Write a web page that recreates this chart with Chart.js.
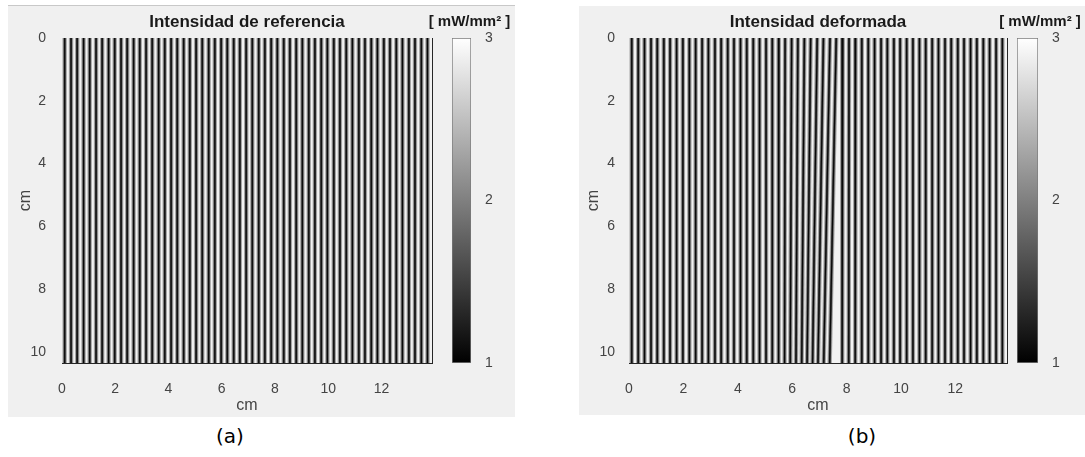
<!DOCTYPE html>
<html>
<head>
<meta charset="utf-8">
<script src="https://cdn.jsdelivr.net/npm/chart.js@4.4.1/dist/chart.umd.min.js"></script>
<style>
  body { margin: 0; background: #fff; width: 1085px; height: 457px; position: relative; overflow: hidden; }
  .panel { position: absolute; background: #f0f0f0; }
  canvas { position: absolute; }
  .cap { position: absolute; top: 424px; font-family: 'DejaVu Sans', sans-serif; font-size: 20px; color: #000; transform: translateX(-50%); }
</style>
</head>
<body>
<div class="panel" style="left:8px;top:5px;width:507px;height:411px;border-top:1px solid #c8c8c8"></div>
<div class="panel" style="left:579px;top:6px;width:506px;height:409px"></div>

<canvas id="refChart" width="432" height="411" style="left:8px;top:5px"></canvas>
<canvas id="refBar" width="91" height="411" style="left:424px;top:5px"></canvas>
<canvas id="defChart" width="433" height="411" style="left:579px;top:5px"></canvas>
<canvas id="defBar" width="90" height="411" style="left:995px;top:5px"></canvas>

<div class="cap" style="left:230px">(a)</div>
<div class="cap" style="left:862px">(b)</div>

<script>
const xTicks = [0, 2, 4, 6, 8, 10, 12];
const yTicks = [0, 2, 4, 6, 8, 10];
const barTicks = [1, 2, 3];
const barColors = ['#000000', '#ffffff'];
const xMax = 13.9;
const yMax = 10.35;

// dark fringe centres (cm) of the reference pattern
const refFringes = [0.10, 0.34, 0.57, 0.81, 1.04, 1.28, 1.51, 1.75, 1.98, 2.22,
    2.45, 2.69, 2.92, 3.16, 3.39, 3.63, 3.86, 4.10, 4.33, 4.57,
    4.80, 5.04, 5.27, 5.51, 5.74, 5.98, 6.21, 6.45, 6.68, 6.92,
    7.15, 7.39, 7.62, 7.86, 8.09, 8.33, 8.56, 8.80, 9.03, 9.27,
    9.50, 9.74, 9.97, 10.21, 10.44, 10.68, 10.91, 11.15, 11.38, 11.62,
    11.85, 12.09, 12.32, 12.56, 12.79, 13.03, 13.26, 13.50, 13.73];

// deformed pattern: same fringes, centre at the top (y = 0) and at the bottom edge
const defTop = [0.10, 0.34, 0.57, 0.81, 1.04, 1.28, 1.51, 1.75, 1.98, 2.22,
    2.45, 2.69, 2.92, 3.16, 3.39, 3.63, 3.86, 4.10, 4.33, 4.57,
    4.80, 5.04, 5.27, 5.51, 5.74, 5.98, 6.21, 6.45, 6.68, 6.92,
    7.15, 7.39, 7.62, 7.86, 8.09, 8.33, 8.56, 8.80, 9.03, 9.27,
    9.50, 9.74, 9.97, 10.21, 10.44, 10.68, 10.91, 11.15, 11.38, 11.62,
    11.85, 12.09, 12.32, 12.56, 12.79, 13.03, 13.26, 13.50, 13.73];
const defBottom = [0.10, 0.34, 0.57, 0.81, 1.04, 1.28, 1.51, 1.75, 1.98, 2.22,
    2.45, 2.69, 2.92, 3.16, 3.39, 3.63, 3.86, 4.10, 4.33, 4.57,
    4.80, 5.04, 5.27, 5.50, 5.72, 5.93, 6.14, 6.35, 6.55, 6.75,
    6.95, 7.16, 7.38, 7.84, 8.08, 8.32, 8.56, 8.80, 9.03, 9.27,
    9.50, 9.74, 9.97, 10.21, 10.44, 10.68, 10.91, 11.15, 11.38, 11.62,
    11.85, 12.09, 12.32, 12.56, 12.79, 13.03, 13.26, 13.50, 13.73];

const font = "'Liberation Sans', Arial, sans-serif";
const textColor = '#444444';
const frameColor = '#262626';

// each fringe drawn three times, wide grey -> narrow black, to fake the cosine shading
const layers = [
    { width: 4.4, color: '#a4a4a4', order: 2 },
    { width: 2.3, color: '#424242', order: 1 },
    { width: 1.1, color: '#080808', order: 0 }
];

const plotBg = {
    id: 'plotBg',
    beforeDatasetsDraw(chart) {
        const a = chart.chartArea;
        chart.ctx.save();
        chart.ctx.fillStyle = '#f2f2f2';
        chart.ctx.fillRect(a.left, a.top, a.right - a.left, a.bottom - a.top);
        chart.ctx.restore();
    }
};

function fringeSets(top, bottom) {
    const sets = [];
    layers.forEach(l => {
        top.forEach((x0, i) => {
            sets.push({
                data: [{ x: x0, y: 0 }, { x: bottom[i], y: yMax }],
                showLine: true,
                borderColor: l.color,
                borderWidth: l.width,
                borderCapStyle: 'butt',
                pointRadius: 0,
                order: l.order,
                clip: 0
            });
        });
    });
    return sets;
}

function fringeChart(id, title, top, bottom, yWidth, padRight, yTitlePad, yTickPad) {
    return new Chart(document.getElementById(id), {
        type: 'scatter',
        data: { datasets: fringeSets(top, bottom) },
        options: {
            responsive: false,
            animation: false,
            events: [],
            layout: { padding: { right: padRight } },
            plugins: {
                legend: { display: false },
                tooltip: { enabled: false },
                title: {
                    display: true,
                    text: title,
                    fullSize: false,
                    color: '#1a1a1a',
                    font: { family: font, size: 17, weight: 'bold' },
                    padding: { top: 6.8, bottom: 5.8 }
                }
            },
            scales: {
                x: {
                    type: 'linear', min: 0, max: xMax,
                    afterBuildTicks: s => { s.ticks = xTicks.map(v => ({ value: v })); },
                    afterFit: s => { s.height = 53; },
                    grid: { display: false },
                    border: { color: frameColor },
                    ticks: { color: textColor, font: { family: font, size: 14 }, padding: 10 },
                    title: { display: true, text: 'cm', color: textColor, font: { family: font, size: 16 }, padding: { top: 0, bottom: 1 } }
                },
                y: {
                    type: 'linear', min: 0, max: yMax, reverse: true,
                    afterBuildTicks: s => { s.ticks = yTicks.map(v => ({ value: v })); },
                    afterFit: s => { s.width = yWidth; },
                    grid: { display: false },
                    border: { color: frameColor },
                    ticks: { color: textColor, font: { family: font, size: 14 }, padding: yTickPad },
                    title: { display: true, text: 'cm', color: textColor, font: { family: font, size: 16 }, padding: { top: yTitlePad, bottom: 0 } }
                },
                xTop: {
                    type: 'linear', position: 'top', min: 0, max: xMax,
                    ticks: { display: false }, grid: { display: false },
                    border: { color: frameColor },
                    afterFit: s => { s.height = 0; }
                },
                yRight: {
                    type: 'linear', position: 'right', min: 0, max: yMax,
                    ticks: { display: false }, grid: { display: false },
                    border: { color: frameColor },
                    afterFit: s => { s.width = 0; }
                }
            }
        },
        plugins: [plotBg]
    });
}

function colorBar(id, padLeft, yWidth) {
    return new Chart(document.getElementById(id), {
        type: 'bar',
        data: {
            labels: [''],
            datasets: [{
                data: [[barTicks[0], barTicks[barTicks.length - 1]]],
                backgroundColor: c => {
                    const a = c.chart.chartArea;
                    if (!a) return '#808080';
                    const g = c.chart.ctx.createLinearGradient(0, a.bottom, 0, a.top);
                    g.addColorStop(0, barColors[0]);
                    g.addColorStop(1, barColors[1]);
                    return g;
                },
                borderColor: '#7a7a7a',
                borderWidth: 1,
                borderSkipped: false,
                categoryPercentage: 1,
                barPercentage: 1
            }]
        },
        options: {
            responsive: false,
            animation: false,
            events: [],
            layout: { padding: { bottom: 53 } },
            plugins: {
                legend: { display: false },
                tooltip: { enabled: false },
                title: {
                    display: true,
                    text: '[ mW/mm² ]',
                    color: '#1a1a1a',
                    font: { family: font, size: 15, weight: 'bold' },
                    padding: { top: 8, bottom: 7 }
                }
            },
            scales: {
                x: { display: false },
                y: {
                    position: 'right', min: barTicks[0], max: barTicks[barTicks.length - 1],
                    afterBuildTicks: s => { s.ticks = barTicks.map(v => ({ value: v })); },
                    afterFit: s => { s.width = yWidth; },
                    grid: { display: false },
                    border: { display: false },
                    ticks: { color: textColor, font: { family: font, size: 14 }, padding: 6 }
                },
                // empty axis that only holds the space left of the bar
                gap: {
                    type: 'linear', position: 'left',
                    ticks: { display: false }, grid: { display: false },
                    border: { display: false },
                    afterFit: s => { s.width = padLeft; }
                }
            }
        }
    });
}

fringeChart('refChart', 'Intensidad de referencia', refFringes, refFringes, 54, 8, 8, 8);
colorBar('refBar', 28, 44);
fringeChart('defChart', 'Intensidad deformada', defTop, defBottom, 50, 5, 5, 6);
colorBar('defBar', 22, 47);
</script>
</body>
</html>
